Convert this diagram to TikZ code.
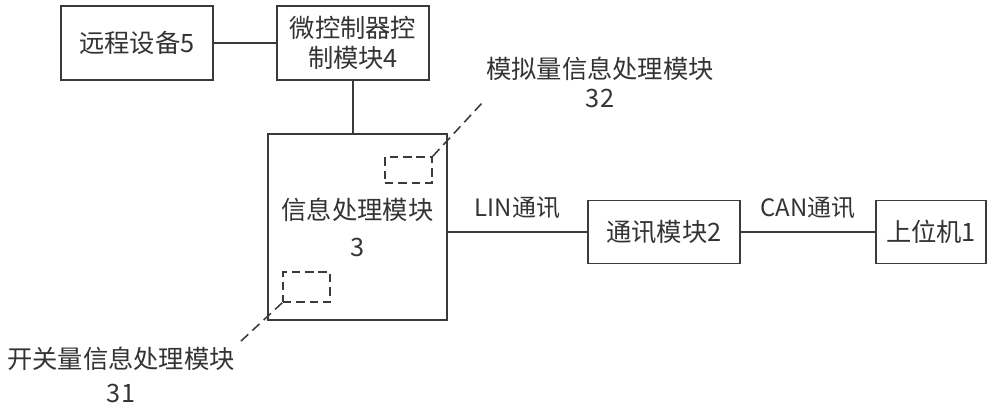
\documentclass[tikz,border=0pt]{standalone}
\usepackage{fontspec}
\setmainfont{Noto Sans CJK SC}
\usetikzlibrary{positioning}
\definecolor{LineGray}{HTML}{3A3A3A}
\definecolor{TextGray}{HTML}{333333}
\tikzset{
  block/.style={draw=LineGray, line width=1pt, align=center, inner sep=0pt,
    font=\fontsize{18}{21.3}\selectfont\color{TextGray}},
  subblock/.style={draw=LineGray, line width=1.1pt, dash pattern=on 6pt off 3.5pt,
    minimum width=1.175cm, inner sep=0pt},
  link/.style={draw=LineGray, line width=1pt},
  leader/.style={draw=LineGray, line width=1.1pt, dash pattern=on 7pt off 4pt},
  tag/.style={font=\fontsize{18}{20.6}\selectfont\color{TextGray}, align=center, inner sep=0pt},
  commtag/.style={font=\fontsize{17}{20}\selectfont\color{TextGray}, inner sep=0pt},
}

\begin{document}
\begin{tikzpicture}[x=0.025cm, y=-0.025cm]
  \useasboundingbox (0,0) rectangle (1000,406);

  % Top row
  \node[block, minimum width=3.8cm, minimum height=1.85cm] (remote) at (137,43) {远程设备5};
  \node[block, minimum width=3.8cm, minimum height=1.85cm] (mcu) at (353,43) {微控制器控\\制模块4};

  % Information processing module with its two sub modules
  \node[block, minimum width=4.475cm, minimum height=4.65cm] (info) at (357.5,227) {信息处理模块\\[5pt]3};
  \node[subblock, minimum height=0.65cm] (analog) at (408.5,170) {};
  \node[subblock, minimum height=0.75cm] (switch) at (306.5,287) {};

  % Right row
  \node[block, minimum width=3.8cm, minimum height=1.575cm] (comm) at (664,232) {通讯模块2};
  \node[block, minimum width=2.75cm, minimum height=1.575cm] (host) at (931,232) {上位机1};

  % Sub module labels
  \node[tag] (analoglabel) at (600,82) {模拟量信息处理模块\\32};
  \node[tag] (switchlabel) at (121,375) {开关量信息处理模块\\[4pt]31};
  \coordinate (analogend) at (483,102);
  \coordinate (switchend) at (240,342);

  % Connectors
  \draw[link] (remote.east) -- (mcu.west);
  \draw[link] (mcu.south) -- (mcu.south |- info.north);
  \draw[link] (comm.west -| info.east) -- node[commtag, above=9pt] {LIN通讯} (comm.west);
  \draw[link] (comm.east) -- node[commtag, above=9pt] {CAN通讯} (host.west);

  % Leaders
  \draw[leader] (analog.north east) -- (analogend);
  \draw[leader] (switch.south west) -- (switchend);
\end{tikzpicture}
\end{document}
